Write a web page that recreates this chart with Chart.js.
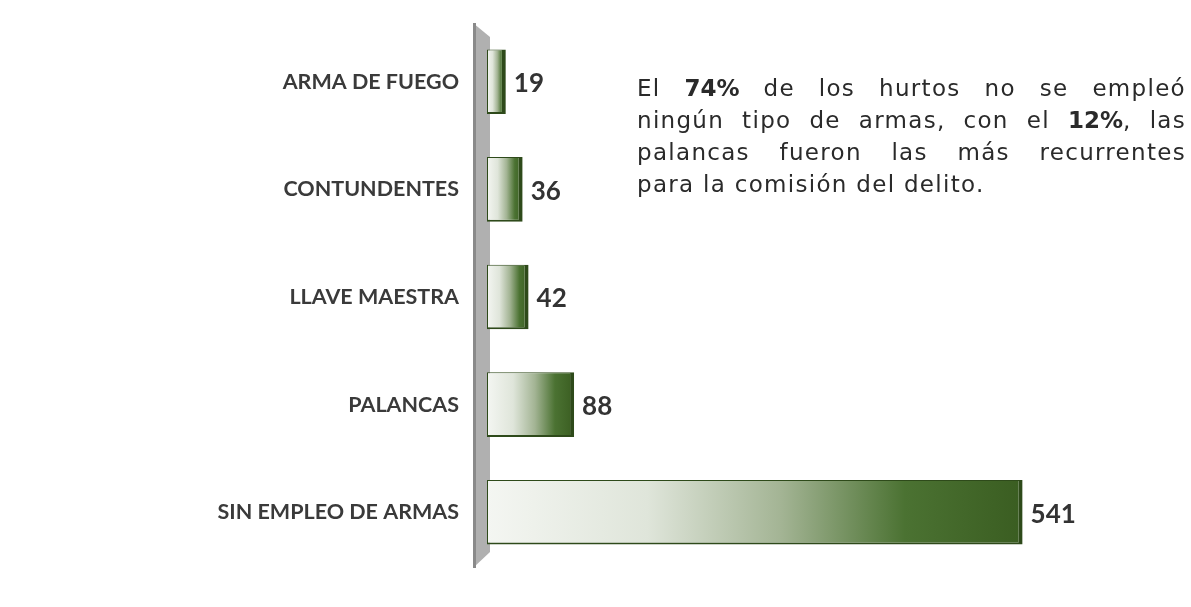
<!DOCTYPE html>
<html>
<head>
<meta charset="utf-8">
<script src="https://cdn.jsdelivr.net/npm/chart.js@4"></script>
<style>
  body { margin: 0; background: #fff; }
  #wrap { position: relative; width: 1191px; height: 607px; }
  #note {
    position: absolute; left: 637px; top: 72px; width: 549px;
    font-family: "DejaVu Sans", sans-serif; font-size: 23px; line-height: 32px;
    letter-spacing: 1.3px; color: #2a2a2a;
  }
  #note div { text-align: justify; text-align-last: justify; white-space: nowrap; }
  #note div.last { text-align-last: left; }
  #note b { font-weight: bold; letter-spacing: 0; }
</style>
</head>
<body>
<div id="wrap">
  <canvas id="myChart1" width="1191" height="607"></canvas>
  <div id="note">
    <div>El <b>74%</b> de los hurtos no se empleó</div>
    <div>ningún tipo de armas, con el <b>12%</b>, las</div>
    <div>palancas fueron las más recurrentes</div>
    <div class="last">para la comisión del delito.</div>
  </div>
</div>
<script>
const labelAxis_C1 = ['ARMA DE FUEGO', 'CONTUNDENTES', 'LLAVE MAESTRA', 'PALANCAS', 'SIN EMPLEO DE ARMAS'];
const value_C1 = [19, 36, 42, 88, 541];

// gray wall behind the bars
const wallPlugin = {
  id: 'wall',
  beforeDatasetsDraw(chart) {
    const c = chart.ctx, a = chart.chartArea;
    const l = a.left - 14, r = a.left + 3;
    c.save();
    c.fillStyle = '#b0b0b0';
    c.beginPath();
    c.moveTo(l, a.top - 5);
    c.lineTo(r, a.top + 9);
    c.lineTo(r, a.bottom - 14);
    c.lineTo(l, a.bottom + 2);
    c.closePath();
    c.fill();
    c.fillStyle = '#8a8a8a';
    c.fillRect(l, a.top - 5, 3, a.bottom - a.top + 7);
    c.restore();
  }
};

// numbers at the end of each bar
const valuePlugin = {
  id: 'values',
  afterDatasetsDraw(chart) {
    const c = chart.ctx;
    c.save();
    c.font = 'bold 26px Lato, sans-serif';
    c.fillStyle = '#333';
    c.textBaseline = 'middle';
    chart.getDatasetMeta(0).data.forEach((bar, i) => {
      c.fillText(value_C1[i], bar.x + 8, bar.y + 2);
    });
    c.restore();
  }
};

const myChart1 = new Chart(document.getElementById('myChart1'), {
  type: 'bar',
  data: {
    labels: labelAxis_C1,
    datasets: [{
      data: value_C1,
      backgroundColor: (ctx) => {
        const chart = ctx.chart, a = chart.chartArea;
        if (!a) return '#4a7030';
        const xs = chart.scales.x;
        const x0 = xs.getPixelForValue(0);
        const x1 = xs.getPixelForValue(ctx.raw);
        const g = chart.ctx.createLinearGradient(x0, 0, x1, 0);
        g.addColorStop(0, '#f4f6f2');
        g.addColorStop(0.3, '#dfe5da');
        g.addColorStop(0.55, '#a3b494');
        g.addColorStop(0.78, '#4b7232');
        g.addColorStop(1, '#3a5d21');
        return g;
      },
      borderColor: '#2e4a1a',
      borderWidth: { top: 1, bottom: 2, left: 1, right: 4 },
      borderSkipped: false,
      barPercentage: 0.6,
      categoryPercentage: 1
    }]
  },
  options: {
    indexAxis: 'y',
    responsive: false,
    animation: false,
    layout: { padding: { top: 28, right: 110, bottom: 41, left: 0 } },
    plugins: { legend: { display: false }, tooltip: { enabled: false } },
    scales: {
      x: { display: false, min: 0, max: 600 },
      y: {
        afterFit(scale) {
          scale.width = 487;
          scale.paddingTop = 0;
          scale.paddingBottom = 0;
        },
        grid: { display: false, drawTicks: false },
        border: { display: false },
        ticks: {
          padding: 28,
          color: '#3a3a3a',
          font: { family: 'Lato, sans-serif', size: 21.5, weight: 'bold' }
        }
      }
    }
  },
  plugins: [wallPlugin, valuePlugin]
});
</script>
</body>
</html>
